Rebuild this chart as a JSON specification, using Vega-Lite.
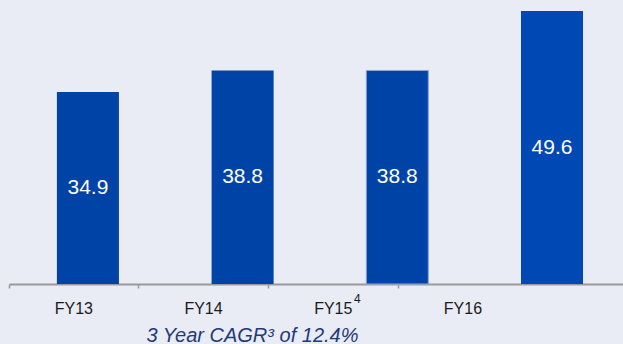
{
  "$schema": "https://vega.github.io/schema/vega-lite/v6.json",
  "width": 614,
  "height": 284,
  "autosize": {"type": "none"},
  "padding": {"left": 9, "top": 0, "right": 0, "bottom": 60},
  "background": "#e9ecf5",
  "config": {"view": {"stroke": null}, "font": "Liberation Sans"},
  "data": {"values": [
    {"fy": "FY13", "value": 34.9},
    {"fy": "FY14", "value": 38.8},
    {"fy": "FY15", "value": 38.8},
    {"fy": "FY16", "value": 49.6}
  ]},
  "layer": [
    {
      "mark": {"type": "bar"},
      "encoding": {
        "x": {"field": "fy", "type": "nominal", "sort": null,
              "scale": {"type": "band", "paddingInner": 0.599, "paddingOuter": 0.284, "align": 0.545},
              "axis": null},
        "y": {"field": "value", "type": "quantitative",
              "scale": {"domain": [0, 51.6], "nice": false, "zero": true}, "axis": null},
        "color": {"condition": {"test": "datum.fy == 'FY16'", "value": "#0049b4"}, "value": "#0043a6"},
        "stroke": {"condition": {"test": "datum.fy == 'FY15'", "value": "#8fa8d8"}, "value": null},
        "strokeWidth": {"value": 1}
      }
    },
    {
      "mark": {"type": "text", "color": "white", "fontSize": 21, "baseline": "middle", "align": "center"},
      "encoding": {
        "x": {"field": "fy", "type": "nominal", "sort": null,
              "scale": {"type": "band", "paddingInner": 0.599, "paddingOuter": 0.284, "align": 0.545},
              "axis": null},
        "y": {"field": "value", "type": "quantitative",
              "scale": {"domain": [0, 103.2], "nice": false, "zero": true}, "axis": null},
        "text": {"field": "value", "type": "quantitative", "format": ".1f"}
      }
    },
    {
      "transform": [{"filter": "datum.fy == 'FY15'"}],
      "mark": {"type": "text", "color": "#1a1a1a", "fontSize": 12, "baseline": "middle", "align": "center", "dx": 24, "dy": 15},
      "encoding": {
        "x": {"field": "fy", "type": "nominal", "sort": ["FY13", "FY14", "FY15", "FY16"],
              "scale": {"type": "band", "domain": ["FY13", "FY14", "FY15", "FY16"], "paddingInner": 0, "paddingOuter": 0.367, "align": 0},
              "axis": {
                "title": "3 Year CAGR³ of 12.4%",
                "titleFont": "Liberation Sans",
                "titleFontSize": 20,
                "titleFontStyle": "italic",
                "titleFontWeight": "normal",
                "titleColor": "#1f3a78",
                "titleX": 243,
                "titleY": 57,
                "titleAlign": "center",
                "titleBaseline": "alphabetic",
                "labelAngle": 0,
                "labelFontSize": 16,
                "labelColor": "#1a1a1a",
                "labelBaseline": "alphabetic",
                "labelPadding": 25,
                "bandPosition": 0,
                "tickSize": 4,
                "tickColor": "#999999",
                "tickWidth": 1.5,
                "domainColor": "#999999",
                "domainWidth": 2,
                "grid": false
              }},
        "y": {"datum": 0, "type": "quantitative",
              "scale": {"domain": [0, 51.6], "nice": false}, "axis": null},
        "text": {"value": "4"}
      }
    }
  ],
  "resolve": {"scale": {"x": "independent", "y": "independent"}}
}
